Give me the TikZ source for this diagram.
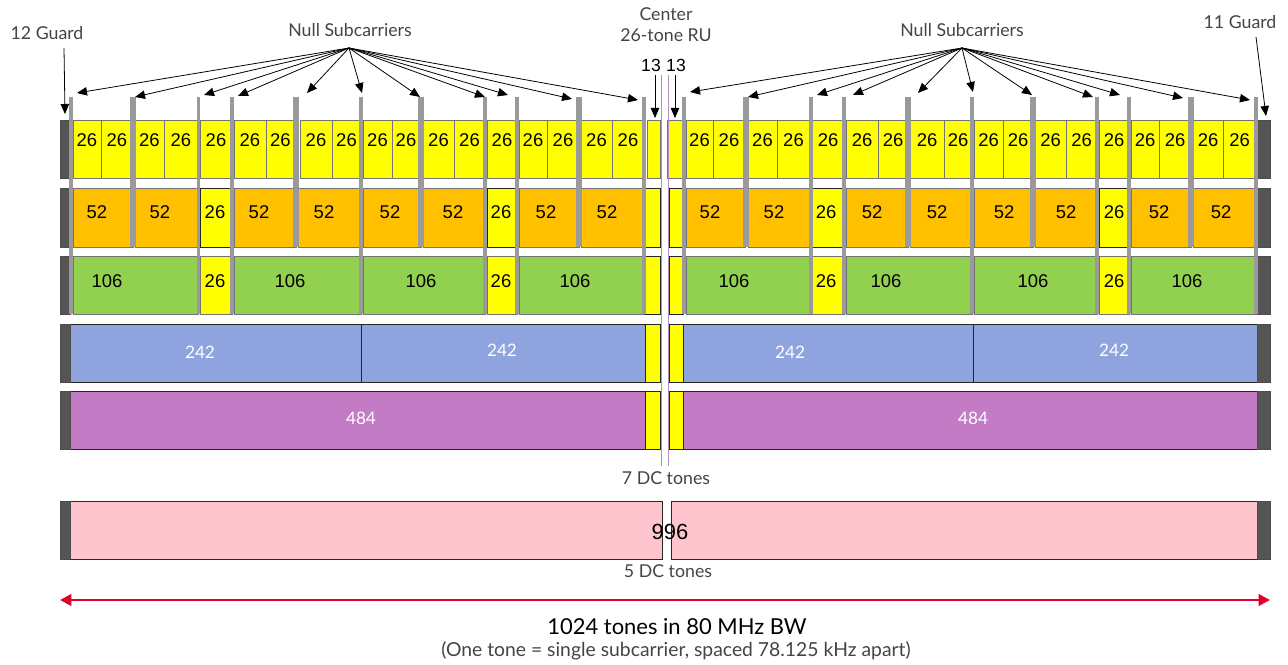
\documentclass[tikz,border=0pt]{standalone}
\usepackage{fontspec}
\setmainfont{Liberation Sans}
\newfontfamily\annfont{Lato}
\usetikzlibrary{arrows.meta}
\definecolor{ruyellow}{HTML}{FFFF00}
\definecolor{ruorange}{HTML}{FFC000}
\definecolor{rugreen}{HTML}{92D050}
\definecolor{rublue}{HTML}{8FA3DE}
\definecolor{rupurple}{HTML}{C47BC6}
\definecolor{rupink}{HTML}{FFC5CF}
\definecolor{guardgray}{HTML}{555555}
\definecolor{nullgray}{HTML}{9A9A9A}
\definecolor{annot}{HTML}{444444}
\definecolor{dcline}{HTML}{B58CC4}
\definecolor{bwred}{HTML}{E0002A}
\begin{document}
\begin{tikzpicture}[x=0.02cm,y=-0.02cm,
  num/.style={font=\fontsize{10.5}{12}\selectfont, inner sep=0},
  wnum/.style={font=\annfont\fontsize{9.8}{11}\selectfont, text=white, inner sep=0},
  ann/.style={font=\annfont\fontsize{10.1}{12}\selectfont, text=annot, inner sep=0},
  rubox/.style={draw=black!55, line width=0.4pt},
  darkbox/.style={draw=black!85, line width=0.5pt},
  guard/.style={fill=guardgray, draw=black!70, line width=0.3pt},
  nullbar/.style={fill=nullgray, draw=none},
  ptr/.style={-{Triangle[length=5.7pt,width=4.8pt]}, line width=0.45pt, black},
  dc/.style={draw=dcline, line width=0.55pt},
]
\useasboundingbox (0,0) rectangle (1288,665);

% ---------- row 1 : 26-tone RUs ----------
\foreach \a/\b [count=\i] in {73/101,101/133,135/164,164/198,200/232,234/266,266/295,300/332,332/361,363/392,392/420,423/454,454/485,487/517,519/547,547/579,581/612,612/644,
686/713,713/745,748/777,777/810,812/844,846/878,878/908,910/944,944/972,974/1003,1003/1033,1035/1066,1066/1097,1099/1129,1131/1159,1159/1191,1193/1223,1223/1256}{
  \draw[rubox, fill=ruyellow] (\a,120) rectangle (\b,178);
  \node[num] (ra\i) at ({(\a+\b)/2},140) {26};
}
\draw[rubox, fill=ruyellow] (647,120) rectangle (660,178);
\draw[rubox, fill=ruyellow] (667,120) rectangle (682,178);

% ---------- row 2 : 52-tone RUs ----------
\foreach \a/\b/\t/\c/\lx [count=\i] in {73/133/52/ruorange/97,135/198/52/ruorange/160,200/232/26/ruyellow/215,234/296/52/ruorange/259,298/361/52/ruorange/324,363/421/52/ruorange/390,423/485/52/ruorange/453,487/517/26/ruyellow/501,519/579/52/ruorange/546,581/644/52/ruorange/607,
686/745/52/ruorange/710,748/810/52/ruorange/774,812/844/26/ruyellow/826,846/908/52/ruorange/872,910/972/52/ruorange/937,974/1033/52/ruorange/1004,1035/1097/52/ruorange/1066,1099/1129/26/ruyellow/1114,1131/1191/52/ruorange/1159,1193/1256/52/ruorange/1221}{
  \draw[rubox, fill=\c] (\a,188) rectangle (\b,247);
  \node[num] (rb\i) at (\lx,212) {\t};
}
\foreach \a/\b in {200/232,487/517,812/844,1099/1129}{
  \draw[darkbox] (\a,188) rectangle (\b,247);
}

% ---------- row 3 : 106-tone RUs ----------
\foreach \a/\b/\t/\c/\lx [count=\i] in {73/198/106/rugreen/107,200/232/26/ruyellow/215,234/361/106/rugreen/290,363/485/106/rugreen/421,487/517/26/ruyellow/501,519/644/106/rugreen/575,
686/811/106/rugreen/734,812/844/26/ruyellow/826,846/972/106/rugreen/886,974/1097/106/rugreen/1033,1099/1129/26/ruyellow/1114,1131/1256/106/rugreen/1187}{
  \draw[rubox, fill=\c] (\a,256) rectangle (\b,314);
  \node[num] (rc\i) at (\lx,281) {\t};
}

% ---------- row 4 : 242-tone RUs ----------
\draw[darkbox, fill=rublue] (70,324) rectangle (361,382);
\draw[darkbox, fill=rublue] (361,324) rectangle (645,382);
\draw[darkbox, fill=rublue] (683,324) rectangle (973,382);
\draw[darkbox, fill=rublue] (973,324) rectangle (1257,382);
\node[wnum] (rd1) at (200,352) {242};
\node[wnum] (rd2) at (502,350) {242};
\node[wnum] (rd3) at (790,352) {242};
\node[wnum] (rd4) at (1114,350) {242};

% ---------- row 5 : 484-tone RUs ----------
\draw[darkbox, fill=rupurple] (70,391) rectangle (645,449);
\draw[darkbox, fill=rupurple] (683,391) rectangle (1257,449);
\node[wnum] (re1) at (361,418) {484};
\node[wnum] (re2) at (973,418) {484};

% centre half-RUs rows 2-5
\foreach \ya/\yb in {188/247,256/314,324/382,391/449}{
  \draw[darkbox, fill=ruyellow] (645,\ya) rectangle (660,\yb);
  \draw[darkbox, fill=ruyellow] (669,\ya) rectangle (683,\yb);
}

% ---------- row 6 : 996 ----------
\draw[darkbox, fill=rupink] (70,501) rectangle (662,559);
\draw[darkbox, fill=rupink] (671,501) rectangle (1257,559);
\node[font=\fontsize{12.5}{14}\selectfont, inner sep=0] (rf) at (670,532) {996};

% ---------- guards ----------
\foreach \ya/\yb in {120/178,188/247,256/314,324/382,391/449,501/559}{
  \draw[guard] (60,\ya) rectangle (70,\yb);
  \draw[guard] (1257,\ya) rectangle (1270,\yb);
}

% ---------- null subcarrier bars ----------
\foreach \x in {71,198.5,232,361,485,517,644,684,811,844,972,1097,1129,1256}{
  \fill[nullbar] (\x-1.8,97) rectangle (\x+1.8,314);
}
\foreach \x in {133,296,421,579,746,908,1033,1191}{
  \fill[nullbar] (\x-3,97) rectangle (\x+3,247);
}

% ---------- DC lines ----------
\coordinate (dcLt) at (661,75);
\coordinate (dcLb) at (661,466);
\coordinate (dcRt) at (668,75);
\coordinate (dcRb) at (668,466);
\draw[dc] (dcLt) -- (dcLb);
\draw[dc] (dcRt) -- (dcRb);

% ---------- annotations ----------
\node[ann] (g12) at (47,33) {12 Guard};
\node[ann] (g11) at (1240,22) {11 Guard};
\node[ann] (nsl) at (350,30) {Null Subcarriers};
\node[ann] (nsr) at (962,30) {Null Subcarriers};
\node[ann] (ctr1) at (666,14) {Center};
\node[ann] (ctr2) at (666,35) {26-tone RU};
\node[font=\fontsize{10}{12}\selectfont, inner sep=0] (h13l) at (651,65) {13};
\node[font=\fontsize{10}{12}\selectfont, inner sep=0] (h13r) at (676,65) {13};
\node[ann] (dc7) at (666,478) {7 DC tones};
\node[ann] (dc5) at (668,571) {5 DC tones};
\node[font=\annfont\fontsize{12.5}{14}\selectfont, inner sep=0] (bw) at (677,627) {1024 tones in 80 MHz BW};
\node[ann, font=\annfont\fontsize{11}{13}\selectfont] (bwnote) at (676,651) {(One tone = single subcarrier, spaced 78.125 kHz apart)};

\coordinate (g12s) at (64,48);
\coordinate (g12t) at (65,114);
\draw[ptr] (g12s) -- (g12t);
\coordinate (g11s) at (1256,37);
\coordinate (g11t) at (1266,116);
\draw[ptr] (g11s) -- (g11t);

\coordinate (h13ls) at (655,75);
\coordinate (h13lt) at (655,118);
\coordinate (h13rs) at (675,75);
\coordinate (h13rt) at (675,118);
\draw[ptr] (h13ls) -- (h13lt);
\draw[ptr] (h13rs) -- (h13rt);

\coordinate (apexL) at (349,48);
\foreach \x/\y [count=\i] in {77/93,135/97,204/95,238/96,307/93,362/93,420/97,485/97,508/95,572/99,638/100}{
  \coordinate (tl\i) at (\x,\y);
  \draw[ptr] (apexL) -- (tl\i);
}
\coordinate (apexR) at (962,48);
\foreach \x/\y [count=\i] in {690/92,748/97,817/95,853/95,918/93,973/92,1032/95,1093/97,1120/95,1183/98,1250/100}{
  \coordinate (tr\i) at (\x,\y);
  \draw[ptr] (apexR) -- (tr\i);
}

% ---------- bandwidth arrow ----------
\coordinate (bwl) at (60,600);
\coordinate (bwr) at (1270,600);
\draw[bwred, line width=1.7pt, {Triangle[length=6.5pt,width=6.5pt]}-{Triangle[length=6.5pt,width=6.5pt]}] (bwl) -- (bwr);
\end{tikzpicture}
\end{document}
